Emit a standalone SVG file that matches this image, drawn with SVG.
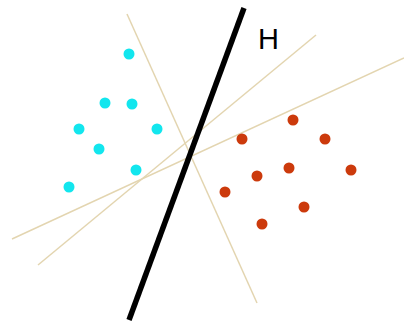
<svg xmlns="http://www.w3.org/2000/svg" width="404" height="325" viewBox="0 0 404 325">
<style>
.thin{stroke:#e3d5b0;stroke-width:1.5;fill:none}
.cy{fill:#12e6ee}
.rd{fill:#cc3a0c}
</style>
<rect width="404" height="325" fill="#fff"/>
<g id="connectors">
<line class="thin" x1="127" y1="14" x2="257" y2="303"/>
<line class="thin" x1="38" y1="265" x2="316" y2="35"/>
<line class="thin" x1="12" y1="239" x2="404" y2="58"/>
<line x1="244" y1="8" x2="129" y2="320" stroke="#000" stroke-width="5.5"/>
</g>
<g id="label-H"><text x="258" y="49" font-family="Liberation Sans, Arial, sans-serif" font-size="29">H</text></g>
<g id="class-cyan">
<circle class="cy" cx="129" cy="54" r="5.5"/>
<circle class="cy" cx="105" cy="103" r="5.5"/>
<circle class="cy" cx="132" cy="104" r="5.5"/>
<circle class="cy" cx="79" cy="129" r="5.5"/>
<circle class="cy" cx="157" cy="129" r="5.5"/>
<circle class="cy" cx="99" cy="149" r="5.5"/>
<circle class="cy" cx="136" cy="170" r="5.5"/>
<circle class="cy" cx="69" cy="187" r="5.5"/>
</g>
<g id="class-red">
<circle class="rd" cx="293" cy="120" r="5.5"/>
<circle class="rd" cx="242" cy="139" r="5.5"/>
<circle class="rd" cx="325" cy="139" r="5.5"/>
<circle class="rd" cx="225" cy="192" r="5.5"/>
<circle class="rd" cx="257" cy="176" r="5.5"/>
<circle class="rd" cx="289" cy="168" r="5.5"/>
<circle class="rd" cx="351" cy="170" r="5.5"/>
<circle class="rd" cx="304" cy="207" r="5.5"/>
<circle class="rd" cx="262" cy="224" r="5.5"/>
</g>
</svg>
